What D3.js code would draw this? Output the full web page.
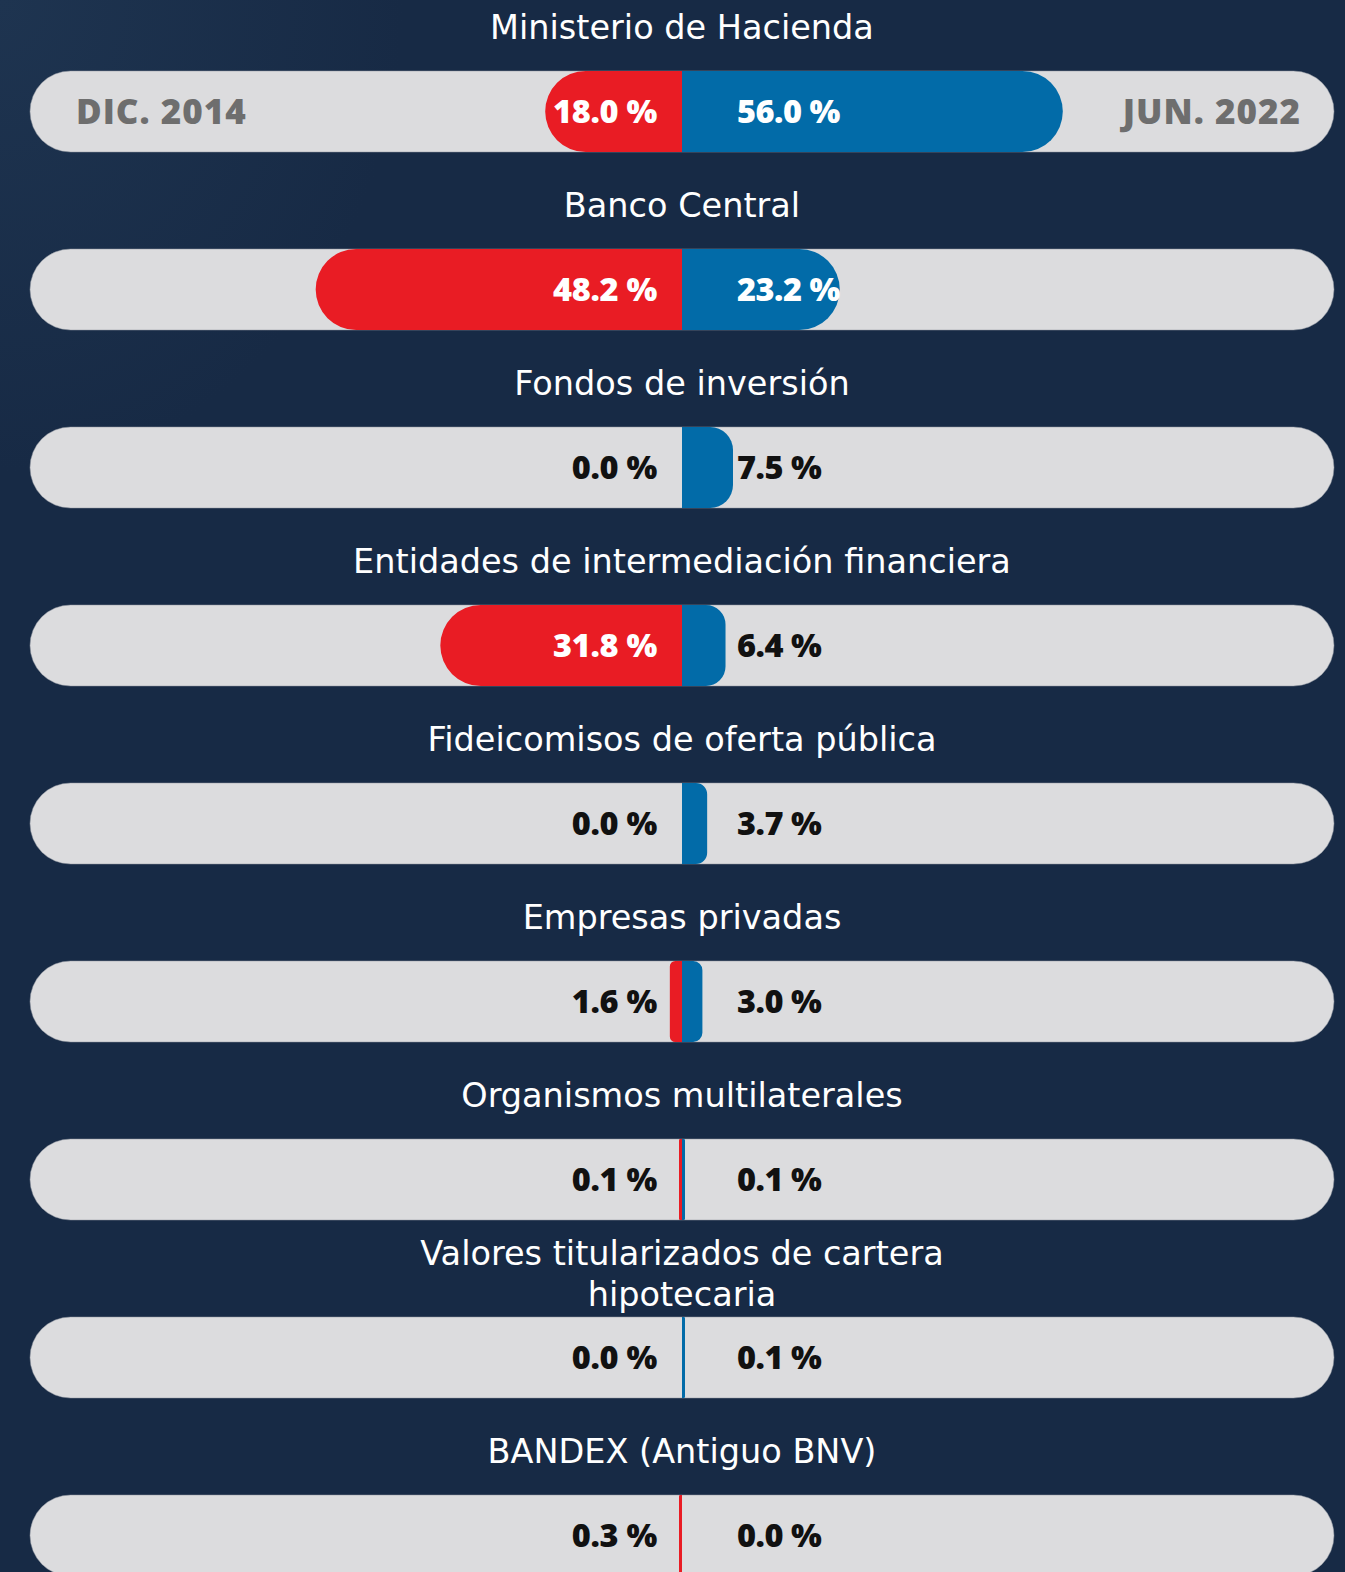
<!DOCTYPE html>
<html>
<head>
<meta charset="utf-8">
<script src="https://cdn.jsdelivr.net/npm/d3@7"></script>
<style>
  html, body { margin: 0; padding: 0; background: #172a45; }
  svg { display: block; }
</style>
</head>
<body>
<svg id="chart" width="1345" height="1572"></svg>
<script>
// ---- data ----
const categories = [
  "Ministerio de Hacienda",
  "Banco Central",
  "Fondos de inversión",
  "Entidades de intermediación financiera",
  "Fideicomisos de oferta pública",
  "Empresas privadas",
  "Organismos multilaterales",
  "Valores titularizados de cartera\nhipotecaria",
  "BANDEX (Antiguo BNV)"
];
const dic2014 = [18.0, 48.2, 0.0, 31.8, 0.0, 1.6, 0.1, 0.0, 0.3];
const jun2022 = [56.0, 23.2, 7.5, 6.4, 3.7, 3.0, 0.1, 0.1, 0.0];
const periodLabels = ["DIC. 2014", "JUN. 2022"];

// ---- layout ----
const W = 1345, H = 1572;
const pillX0 = 30, pillX1 = 1334, cx = 682;
const pillH = 81, pillOffset = 71, titleOffset = 27, step = 178;
const colors = { bg: "#172a45", pill: "#dcdcde", red: "#e91c24", blue: "#026ba8", period: "#6e6e6e" };

const svg = d3.select("#chart");
const defs = svg.append("defs");
const grad = defs.append("radialGradient").attr("id", "bgGrad")
  .attr("cx", 0).attr("cy", 0).attr("r", 0.3).attr("gradientUnits", "objectBoundingBox");
grad.append("stop").attr("offset", "0%").attr("stop-color", "#1e3450");
grad.append("stop").attr("offset", "100%").attr("stop-color", colors.bg);
svg.append("rect").attr("width", W).attr("height", H).attr("fill", colors.bg);
svg.append("rect").attr("width", W).attr("height", H).attr("fill", "url(#bgGrad)");

const y = d3.scaleBand().domain(categories).range([0, step * categories.length]).padding(0);
// the infographic draws each period on its own scale
const xLeft = d3.scaleLinear().domain([0, 50]).range([0, 380]);
const xRight = d3.scaleLinear().domain([0, 60]).range([0, 408]);
const fmt = v => d3.format(".1f")(v) + " %";

function barPath(x0, w, top, h, dir) {
  if (w <= 0) return "";
  const r = Math.min(h / 2, w * 0.45);
  const xe = x0 + dir * w;
  const p = d3.path();
  p.moveTo(x0, top);
  p.lineTo(xe - dir * r, top);
  p.arcTo(xe, top, xe, top + r, r);
  p.lineTo(xe, top + h - r);
  p.arcTo(xe, top + h, xe - dir * r, top + h, r);
  p.lineTo(x0, top + h);
  p.closePath();
  return p.toString();
}

const rows = svg.selectAll("g.row")
  .data(categories.map((c, i) => ({ c, i, left: dic2014[i], right: jun2022[i] })))
  .join("g").attr("class", "row")
  .attr("transform", d => `translate(0,${y(d.c)})`);

// titles
rows.each(function(d) {
  const lines = d.c.split("\n");
  const t = d3.select(this).append("text")
    .attr("x", cx)
    .attr("text-anchor", "middle")
    .attr("fill", "#ffffff")
    .attr("font-family", "'DejaVu Sans', sans-serif")
    .attr("font-size", 33.5)
    .attr("font-weight", 400);
  const lh = 41;
  const start = titleOffset - (lines.length - 1) * lh / 2;
  lines.forEach((l, k) => {
    t.append("tspan").attr("x", cx).attr("y", start + k * lh).attr("dy", "0.36em").text(l);
  });
});

// pill background
rows.append("rect")
  .attr("x", pillX0).attr("y", pillOffset)
  .attr("width", pillX1 - pillX0).attr("height", pillH)
  .attr("rx", pillH / 2).attr("ry", pillH / 2)
  .attr("fill", colors.pill)
  .attr("stroke", "#8f969f").attr("stroke-opacity", 0.5).attr("stroke-width", 1);

const wL = v => v > 0 ? Math.max(xLeft(v), 3) : 0;
const wR = v => v > 0 ? Math.max(xRight(v), 3) : 0;

rows.append("path")
  .attr("d", d => barPath(cx, wL(d.left), pillOffset, pillH, -1))
  .attr("fill", colors.red);
rows.append("path")
  .attr("d", d => barPath(cx, wR(d.right), pillOffset, pillH, 1))
  .attr("fill", colors.blue);

const valFont = "'Open Sans', 'DejaVu Sans', sans-serif";
rows.append("text")
  .attr("x", cx - 25).attr("y", pillOffset + pillH / 2).attr("dy", "0.36em")
  .attr("text-anchor", "end")
  .attr("font-family", valFont).attr("font-size", 32.5).attr("font-weight", 800)
  .attr("letter-spacing", -0.3)
  .attr("fill", d => wL(d.left) > 110 ? "#ffffff" : "#111111")
  .text(d => fmt(d.left));
rows.append("text")
  .attr("x", cx + 55).attr("y", pillOffset + pillH / 2).attr("dy", "0.36em")
  .attr("text-anchor", "start")
  .attr("font-family", valFont).attr("font-size", 32.5).attr("font-weight", 800)
  .attr("letter-spacing", -0.5)
  .attr("fill", d => wR(d.right) > 110 ? "#ffffff" : "#111111")
  .text(d => fmt(d.right));

// period labels on first row
const first = rows.filter(d => d.i === 0);
first.append("text")
  .attr("x", 76).attr("y", pillOffset + pillH / 2).attr("dy", "0.36em")
  .attr("text-anchor", "start")
  .attr("font-family", valFont).attr("font-size", 35).attr("font-weight", 800)
  .attr("letter-spacing", 1)
  .attr("fill", colors.period).text(periodLabels[0]);
first.append("text")
  .attr("x", 1301).attr("y", pillOffset + pillH / 2).attr("dy", "0.36em")
  .attr("text-anchor", "end")
  .attr("font-family", valFont).attr("font-size", 35).attr("font-weight", 800)
  .attr("letter-spacing", 1)
  .attr("fill", colors.period).text(periodLabels[1]);
</script>
</body>
</html>
